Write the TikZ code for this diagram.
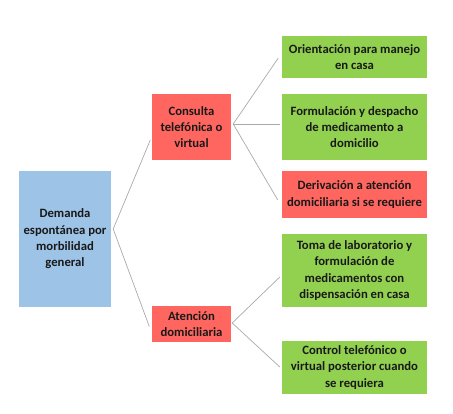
\documentclass[tikz,border=0pt]{standalone}
\usepackage{fontspec}
\setmainfont{Carlito}
\begin{document}
\begin{tikzpicture}[x=1pt,y=-1pt,
  box/.style={draw=none,minimum width=#1,inner sep=0pt,align=center,
     font=\bfseries\fontsize{12.7}{16.4}\selectfont,text=black!90},
  bluebox/.style={box=92,fill={rgb,255:red,157;green,195;blue,230}},
  redbox/.style={box=79,fill={rgb,255:red,255;green,102;blue,96}},
  redwide/.style={box=145,fill={rgb,255:red,255;green,102;blue,96}},
  greenbox/.style={box=145,fill={rgb,255:red,146;green,208;blue,80}},
  link/.style={draw={rgb,255:red,170;green,170;blue,170},line width=0.7pt}]
\fill[white] (0,0) rectangle (453,414);
\useasboundingbox (0,0) rectangle (453,414);
\node[bluebox,minimum height=136] (dem) at (65,239) {Demanda\\espontánea por\\morbilidad\\general};
\node[redbox,minimum height=66] (con) at (191.5,127) {Consulta\\telefónica o\\virtual};
\node[redbox,minimum height=36] (ate) at (191.5,324) {Atención\\domiciliaria};
\node[greenbox,minimum height=42] (g1) at (354.5,57) {Orientación para manejo\\en casa};
\node[greenbox,minimum height=66] (g2) at (354.5,127) {Formulación y despacho\\de medicamento a\\domicilio};
\node[redwide,minimum height=47] (r3) at (354.5,194.5) {Derivación a atención\\domiciliaria si se requiere};
\node[greenbox,minimum height=73] (g4) at (354.5,270.5) {Toma de laboratorio y\\formulación de\\medicamentos con\\dispensación en casa};
\node[greenbox,minimum height=53] (g5) at (354.5,367.5) {Control telefónico o\\virtual posterior cuando\\se requiera};
\coordinate (dv) at ([shift={(2,-10)}]dem.east);
\coordinate (cv) at ([shift={(2,-3)}]con.east);
\coordinate (av) at ([shift={(1,-1)}]ate.east);
\draw[link] (dv) -- ([shift={(-1.5,13)}]con.west);
\draw[link] (dv) -- ([shift={(-2.5,2.5)}]ate.west);
\draw[link] (cv) -- ([shift={(-3.5,1)}]g1.west);
\draw[link] (cv) -- ([shift={(-2,-3)}]g2.west);
\draw[link] (cv) -- ([shift={(-4,5.5)}]r3.west);
\draw[link] (av) -- ([shift={(-2,6.5)}]g4.west);
\draw[link] (av) -- ([shift={(-2,-0.5)}]g5.west);
\end{tikzpicture}
\end{document}
